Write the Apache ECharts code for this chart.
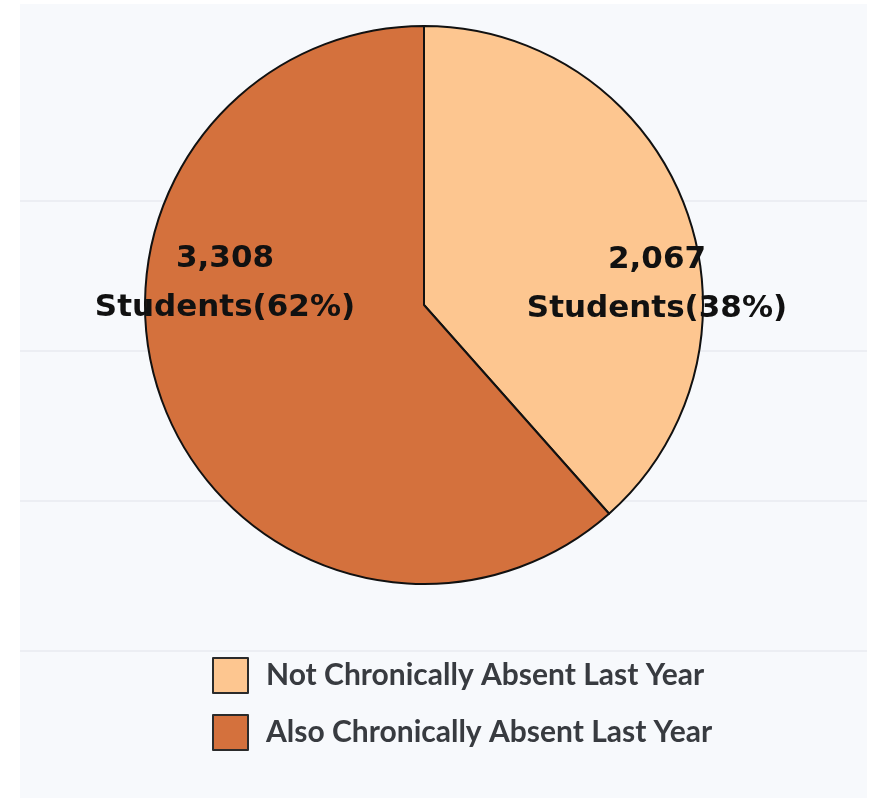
<!DOCTYPE html>
<html>
<head>
<meta charset="utf-8">
<script src="https://cdn.jsdelivr.net/npm/echarts@6/dist/echarts.min.js"></script>
<style>
  html, body { margin: 0; padding: 0; background: #ffffff; }
  #panel { position: absolute; left: 20px; top: 4px; width: 847px; height: 794px; background: #f7f9fc; }
  #chart { position: absolute; left: 0; top: 0; width: 871px; height: 798px; }
</style>
</head>
<body>
<div id="panel"></div>
<div id="chart"></div>
<script>
// Data
const categories = ['Not Chronically Absent Last Year', 'Also Chronically Absent Last Year'];
const studentCounts = [2067, 3308];
const sliceColors = ['#fdc690', '#d4713d'];
// Label anchor points (layout only)
const labelAnchors = [[657, 284], [225, 283]];
// Decorative background rule lines (layout only)
const ruleYs = [201, 351, 501, 651];

const total = studentCounts.reduce((a, b) => a + b, 0);
const pieData = categories.map((name, i) => ({
  name: name,
  value: studentCounts[i],
  itemStyle: { color: sliceColors[i] }
}));

const chart = echarts.init(document.getElementById('chart'), null, { renderer: 'canvas' });

chart.setOption({
  animation: false,
  backgroundColor: 'transparent',
  graphic: ruleYs.map(y => ({
    type: 'line',
    z: 0,
    silent: true,
    shape: { x1: 20, y1: y, x2: 867, y2: y },
    style: { stroke: '#eceef3', lineWidth: 2 }
  })),
  legend: {
    orient: 'vertical',
    left: 207,
    top: 652,
    itemWidth: 35,
    itemHeight: 35,
    itemGap: 20,
    icon: 'rect',
    selectedMode: false,
    itemStyle: { borderColor: '#2b2b2b', borderWidth: 2 },
    textStyle: {
      fontFamily: 'Lato',
      fontWeight: 'bold',
      fontSize: 30,
      color: '#383b40',
      padding: [5, 0, 0, 13]
    },
    data: categories
  },
  series: [{
    type: 'pie',
    z: 2,
    center: [424, 305],
    radius: 279,
    startAngle: 90,
    clockwise: true,
    silent: true,
    avoidLabelOverlap: false,
    itemStyle: { borderColor: '#111111', borderWidth: 2 },
    label: {
      show: true,
      position: 'inside',
      fontFamily: 'DejaVu Sans',
      fontWeight: 'bold',
      fontSize: 31,
      lineHeight: 49,
      color: '#111111',
      align: 'center',
      formatter: p => p.value.toLocaleString('en-US') + '\nStudents(' + Math.round(p.value / total * 100) + '%)'
    },
    labelLine: { show: false },
    labelLayout: params => ({
      x: labelAnchors[params.dataIndex][0],
      y: labelAnchors[params.dataIndex][1],
      align: 'center',
      verticalAlign: 'middle'
    }),
    emphasis: { disabled: true },
    data: pieData
  }]
});
</script>
</body>
</html>
